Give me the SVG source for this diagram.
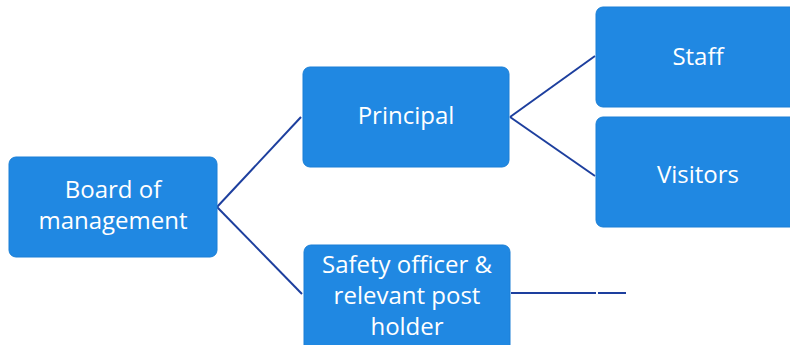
<svg xmlns="http://www.w3.org/2000/svg" width="790" height="345" viewBox="0 0 790 345">
  <style>
    .box { fill: #2088e2; stroke: #1a7fd6; stroke-width: 1; }
    .label { fill: #ffffff; font-family: "Open Sans", "Liberation Sans", sans-serif; font-size: 24px; text-anchor: middle; }
    .link { stroke: #1d3f9e; stroke-width: 2; fill: none; }
  </style>
  <rect width="790" height="345" fill="#ffffff"/>

  <g id="connectors">
    <line class="link" x1="217" y1="207" x2="301" y2="117"/>
    <line class="link" x1="217" y1="207" x2="302" y2="294"/>
    <line class="link" x1="510" y1="117" x2="595" y2="56"/>
    <line class="link" x1="510" y1="117" x2="595" y2="176"/>
    <line class="link" x1="511" y1="293" x2="596" y2="293"/>
    <line class="link" x1="598" y1="293" x2="626" y2="293"/>
  </g>

  <g id="board">
    <rect class="box" x="9" y="157" width="208" height="100" rx="7"/>
    <text class="label" x="113" y="198">Board of</text>
    <text class="label" x="113" y="229">management</text>
  </g>

  <g id="principal">
    <rect class="box" x="303" y="67" width="206" height="100" rx="7"/>
    <text class="label" x="406" y="124">Principal</text>
  </g>

  <g id="safety">
    <rect class="box" x="304" y="245" width="206" height="110" rx="7"/>
    <text class="label" x="407" y="273">Safety officer &amp;</text>
    <text class="label" x="407" y="304">relevant post</text>
    <text class="label" x="407" y="335">holder</text>
  </g>

  <g id="staff">
    <rect class="box" x="596" y="7" width="210" height="100" rx="7"/>
    <text class="label" x="698" y="65">Staff</text>
  </g>

  <g id="visitors">
    <rect class="box" x="596" y="117" width="210" height="110" rx="7"/>
    <text class="label" x="698" y="183">Visitors</text>
  </g>
</svg>
